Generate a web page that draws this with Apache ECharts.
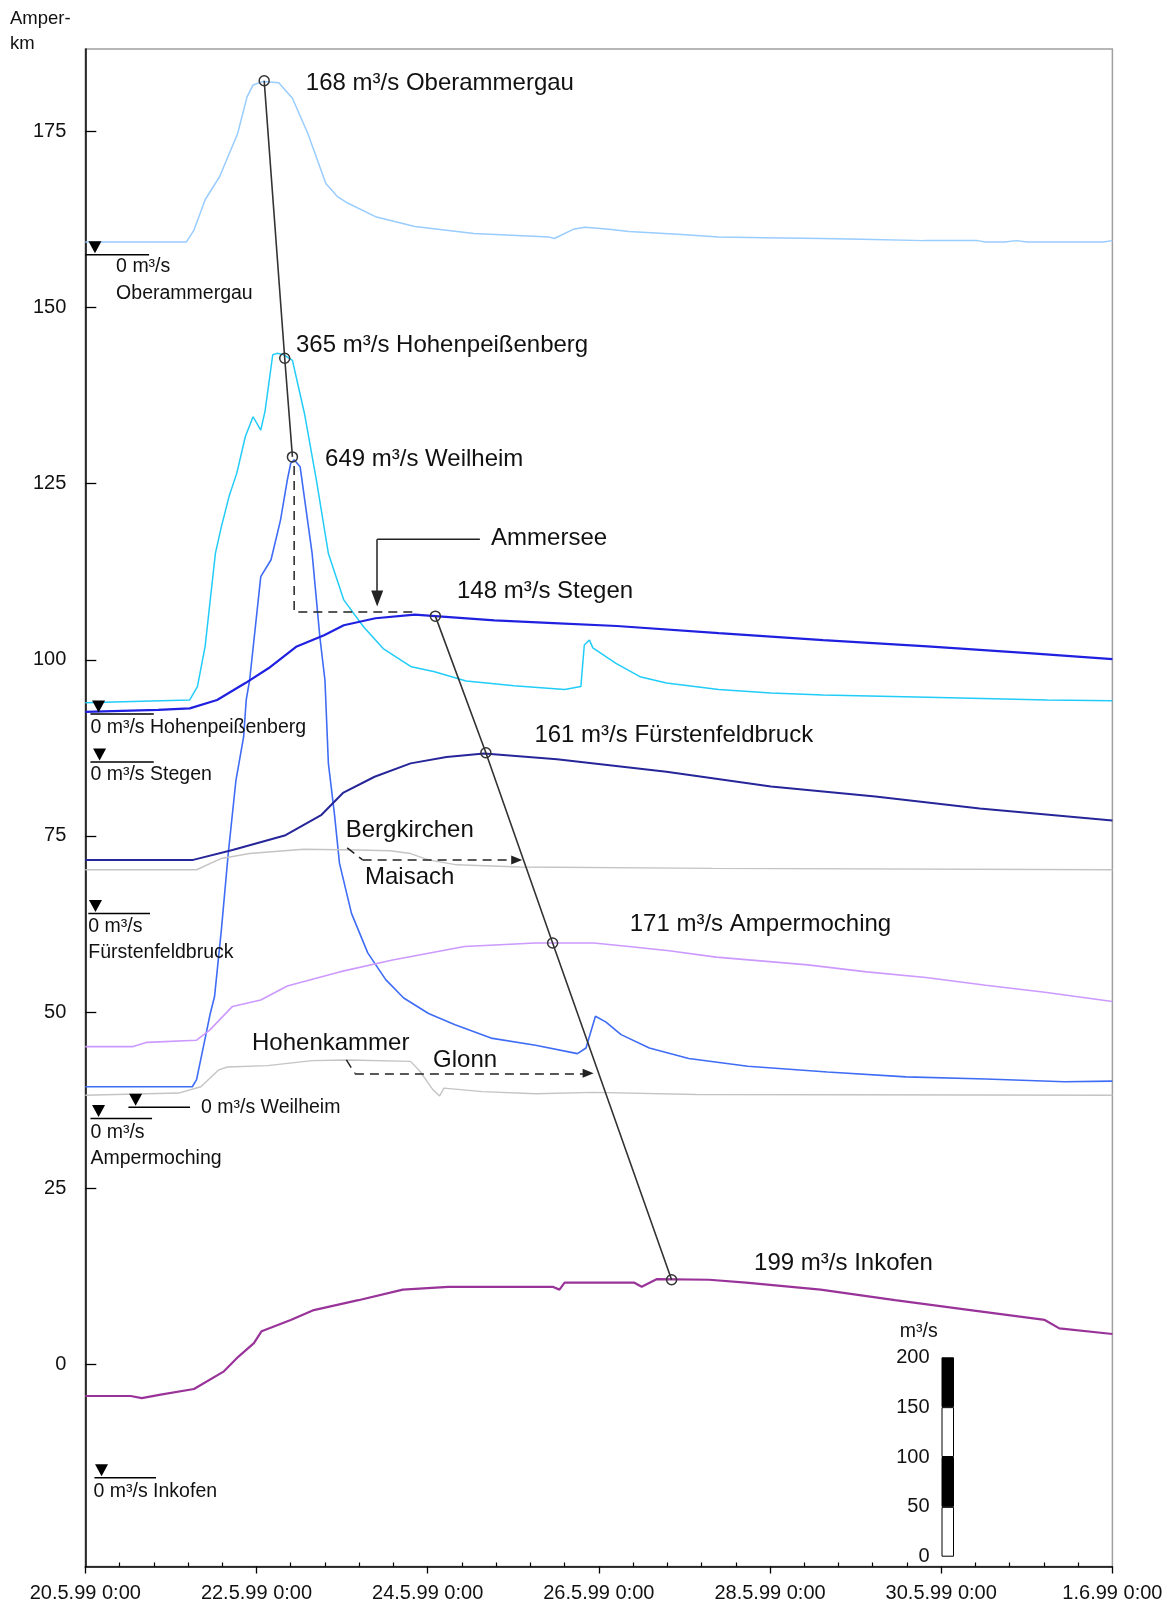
<!DOCTYPE html>
<html><head><meta charset="utf-8">
<script src="https://cdn.jsdelivr.net/npm/echarts@6/dist/echarts.min.js"></script>
<style>html,body{margin:0;padding:0;background:#fff}#c{width:1171px;height:1610px}</style>
</head><body><div id="c"></div>
<script>
// ---------- DATA (x = days since 20.5.99 0:00, y = Amper-km plotting position) ----------
const xTickLabels = ['20.5.99 0:00','22.5.99 0:00','24.5.99 0:00','26.5.99 0:00','28.5.99 0:00','30.5.99 0:00','1.6.99 0:00'];
const yTickValues = [0,25,50,75,100,125,150,175];
const scaleTickValues = [0,50,100,150,200];
const scaleSegments = [50,50,50,50];

const oberammergau = [[0,159.3],[1.18,159.3],[1.27,161.0],[1.40,165.3],[1.57,168.6],[1.78,174.7],[1.89,179.9],[1.96,181.6],[2.08,182.1],[2.26,181.9],[2.42,179.7],[2.60,174.7],[2.81,167.6],[2.95,165.7],[3.07,164.8],[3.39,162.9],[3.85,161.5],[4.54,160.5],[5.42,160.0],[5.48,159.8],[5.70,161.1],[5.84,161.4],[6.12,161.1],[6.35,160.8],[6.92,160.4],[7.40,160.0],[7.94,159.9],[8.60,159.8],[9.07,159.7],[9.80,159.5],[10.42,159.5],[10.52,159.3],[10.74,159.3],[10.88,159.5],[11.00,159.3],[11.89,159.3],[12.00,159.5]];
const hohenpeissenberg = [[0,93.9],[1.22,94.3],[1.31,96.2],[1.40,101.9],[1.52,115.1],[1.59,118.9],[1.68,123.2],[1.77,126.5],[1.87,131.7],[1.96,134.5],[2.05,132.6],[2.10,135.3],[2.19,143.3],[2.24,143.5],[2.32,143.3],[2.42,142.5],[2.56,135.0],[2.70,125.5],[2.84,115.1],[3.02,108.5],[3.25,104.7],[3.48,101.6],[3.81,99.0],[4.08,98.3],[4.45,97.0],[5.01,96.3],[5.60,95.8],[5.79,96.2],[5.83,102.1],[5.89,102.8],[5.93,101.7],[6.20,99.5],[6.48,97.6],[6.79,96.7],[7.40,95.8],[8.01,95.3],[8.62,95.0],[9.84,94.7],[11.24,94.3],[12.00,94.2]];
const weilheim = [[0,39.4],[1.25,39.4],[1.30,40.4],[1.38,45.1],[1.46,49.8],[1.51,52.2],[1.59,61.7],[1.67,72.5],[1.76,82.9],[1.85,89.1],[1.88,94.3],[1.92,97.1],[2.05,111.8],[2.17,114.2],[2.28,119.8],[2.36,125.5],[2.40,127.9],[2.44,128.4],[2.51,127.4],[2.65,115.1],[2.74,103.3],[2.80,97.1],[2.84,85.3],[2.91,78.2],[2.97,71.1],[3.11,64.0],[3.30,58.4],[3.51,54.6],[3.72,52.0],[4.01,49.8],[4.32,48.2],[4.74,46.3],[5.26,45.3],[5.75,44.1],[5.85,44.9],[5.96,49.4],[6.08,48.6],[6.26,46.8],[6.59,44.9],[7.05,43.4],[7.74,42.3],[8.67,41.5],[9.59,40.8],[10.52,40.5],[11.44,40.1],[12.00,40.2]];
const stegen = [[0,92.6],[0.85,92.9],[1.22,93.1],[1.54,94.3],[1.87,96.7],[2.14,98.8],[2.47,101.9],[2.79,103.5],[3.02,104.9],[3.39,105.9],[3.85,106.4],[4.09,106.2],[4.78,105.6],[5.47,105.2],[6.21,104.8],[7.40,103.8],[8.62,102.8],[9.84,101.9],[11.06,100.9],[12.00,100.1]];
const fuerstenfeldbruck = [[0,71.6],[1.26,71.6],[1.72,73.0],[2.34,75.1],[2.76,78.0],[3.01,81.1],[3.38,83.4],[3.80,85.3],[4.22,86.2],[4.66,86.7],[5.51,85.9],[6.79,84.1],[8.01,82.0],[9.23,80.6],[10.45,78.9],[12.00,77.2]];
const maisach = [[0,70.2],[1.30,70.2],[1.59,71.8],[1.92,72.5],[2.55,73.1],[3.18,73.0],[3.56,72.9],[3.80,72.5],[4.01,71.6],[4.34,70.9],[5.08,70.6],[7.33,70.4],[12.00,70.2]];
const ampermoching = [[0,45.1],[0.56,45.1],[0.72,45.7],[1.30,46.0],[1.45,47.4],[1.72,50.8],[2.05,51.7],[2.36,53.7],[2.97,55.7],[3.59,57.4],[4.43,59.3],[5.26,59.8],[5.94,59.8],[6.35,59.3],[6.82,58.7],[7.37,57.8],[8.44,56.7],[9.13,55.7],[9.82,54.9],[10.52,53.8],[11.21,52.8],[12.00,51.5]];
const glonn = [[0,38.2],[1.09,38.5],[1.35,39.4],[1.56,41.8],[1.66,42.2],[2.13,42.4],[2.65,43.1],[3.07,43.2],[3.80,43.0],[3.91,41.6],[4.06,39.0],[4.14,38.1],[4.19,39.2],[4.64,38.7],[5.26,38.4],[5.94,38.6],[7.14,38.3],[12.00,38.2]];
const inkofen = [[0,-4.5],[0.53,-4.5],[0.66,-4.8],[0.88,-4.3],[1.27,-3.5],[1.62,-1.0],[1.79,1.1],[1.97,3.0],[2.06,4.7],[2.40,6.3],[2.67,7.7],[3.19,9.1],[3.71,10.6],[4.24,11.0],[5.46,11.0],[5.54,10.6],[5.60,11.6],[6.41,11.6],[6.50,11.0],[6.68,12.1],[7.29,12.0],[7.72,11.6],[8.59,10.6],[9.46,9.1],[10.34,7.7],[11.21,6.3],[11.38,5.1],[12.00,4.3]];

// peak points (flood wave travel)
const upperPeaks = [[2.09,182.2],[2.33,142.8],[2.42,128.8]];
const lowerPeaks = [[4.09,106.2],[4.68,86.8],[5.46,59.8],[6.85,12.0]];

// ---------- CHART ----------
const FONT = '"Liberation Sans", Arial, Helvetica, sans-serif';
const TXT = '#111';
const chart = echarts.init(document.getElementById('c'), null, {renderer:'canvas', width:1171, height:1610});

const gauges = [
  {name:'Oberammergau', data:oberammergau, color:'#99ccff', w:1.5},
  {name:'Hohenpeißenberg', data:hohenpeissenberg, color:'#22ccf8', w:1.5},
  {name:'Weilheim', data:weilheim, color:'#3f6cf5', w:1.6},
  {name:'Stegen', data:stegen, color:'#2020e0', w:2.2},
  {name:'Fürstenfeldbruck', data:fuerstenfeldbruck, color:'#26269a', w:2},
  {name:'Maisach', data:maisach, color:'#c4c4c4', w:1.4},
  {name:'Ampermoching', data:ampermoching, color:'#cc99ff', w:1.6},
  {name:'Glonn', data:glonn, color:'#c4c4c4', w:1.4},
  {name:'Inkofen', data:inkofen, color:'#993399', w:2.2}
];

const series = gauges.map(g => ({
  type:'line', name:g.name, data:g.data, symbol:'none', showSymbol:false,
  lineStyle:{color:g.color, width:g.w}, itemStyle:{color:g.color}, z:2, silent:true
}));

const peakStyle = {
  type:'line', symbol:'circle', symbolSize:10, showSymbol:true, showAllSymbol:true,
  lineStyle:{color:'#333', width:1.6},
  itemStyle:{color:'rgba(255,255,255,0)', borderColor:'#333', borderWidth:1.5},
  z:6, silent:true
};
series.push(Object.assign({}, peakStyle, {data:upperPeaks}));
series.push(Object.assign({}, peakStyle, {data:lowerPeaks}));

const dash = [9,6];
function arrowMark(from, to, type, size){
  return {
    silent:true, symbol:['none','triangle'], symbolSize:size,
    label:{show:false}, emphasis:{disabled:true},
    lineStyle:{color:'#222', width:1.5, type:type},
    data:[[{coord:from},{coord:to}]]
  };
}
// Weilheim -> Ammersee (dashed)
series.push({type:'line', symbol:'none', data:[[2.44,127.5],[2.44,106.8],[3.85,106.8]],
  lineStyle:{color:'#222', width:1.5, type:dash}, z:5, silent:true});
// Ammersee arrow (solid)
series.push({type:'line', symbol:'none', data:[[4.61,117.1],[3.41,117.1]],
  lineStyle:{color:'#222', width:1.5}, z:5, silent:true,
  markLine:arrowMark([3.41,117.1],[3.41,108.7],'solid',[12,16])});
// Bergkirchen / Maisach arrow
series.push({type:'line', symbol:'none', data:[[3.06,73.3],[3.24,71.6]],
  lineStyle:{color:'#222', width:1.5, type:dash}, z:5, silent:true,
  markLine:arrowMark([3.24,71.6],[5.04,71.6],dash,[9,11])});
// Hohenkammer / Glonn arrow
series.push({type:'line', symbol:'none', data:[[3.05,43.2],[3.15,41.3]],
  lineStyle:{color:'#222', width:1.5, type:dash}, z:5, silent:true,
  markLine:arrowMark([3.15,41.3],[5.875,41.3],dash,[9,11])});

// scale bar (stacked bars in a second grid)
scaleSegments.forEach((s,i) => {
  series.push({type:'bar', xAxisIndex:1, yAxisIndex:1, stack:'scale', data:[s],
    barWidth:'100%', silent:true,
    itemStyle:{color: i % 2 ? '#000' : '#fff', borderColor:'#000', borderWidth:1}});
});

const option = {
  animation:false,
  backgroundColor:'#fff',
  textStyle:{fontFamily:FONT},
  grid:[
    {left:85.3, right:58.6, top:49, bottom:43.5, show:true, borderColor:'#a0a0a0', borderWidth:1.5, backgroundColor:'rgba(0,0,0,0)'},
    {left:941.5, top:1357.3, width:12.5, height:199.4, show:false}
  ],
  xAxis:[
    {type:'value', gridIndex:0, min:0, max:12, interval:2,
     axisLine:{show:true, onZero:false, lineStyle:{color:'#000', width:1.5}},
     axisTick:{show:true, length:7, lineStyle:{color:'#000', width:1.3}},
     minorTick:{show:true, splitNumber:5, length:-4, lineStyle:{color:'#000', width:1.2}},
     splitLine:{show:false},
     axisLabel:{fontSize:20, color:TXT, fontFamily:FONT, margin:17,
       formatter:(v)=> xTickLabels[Math.round(v/2)] || ''}},
    {type:'category', gridIndex:1, data:['m³/s'], show:false}
  ],
  yAxis:[
    {type:'value', gridIndex:0, min:-28.7, max:186.7,
     axisLine:{show:true, onZero:false, lineStyle:{color:'#000', width:1.5}},
     axisTick:{show:true, inside:true, length:11, customValues:yTickValues, lineStyle:{color:'#000', width:1.3}},
     splitLine:{show:false},
     axisLabel:{fontSize:20, color:TXT, fontFamily:FONT, margin:19, customValues:yTickValues}},
    {type:'value', gridIndex:1, min:0, max:200, interval:50,
     axisLine:{show:false}, axisTick:{show:false}, splitLine:{show:false},
     axisLabel:{fontSize:20, color:TXT, fontFamily:FONT, margin:12, customValues:scaleTickValues}}
  ],
  series:series
};
chart.setOption(option);

// ---------- ANNOTATIONS (anchored in data coordinates) ----------
const px = (d,v) => chart.convertToPixel({gridIndex:0}, [d,v]);
const bigLabels = [
  ['168 m³/s Oberammergau', 2.577, 181.8],
  ['365 m³/s Hohenpeißenberg', 2.462, 144.7],
  ['649 m³/s Weilheim', 2.801, 128.5],
  ['Ammersee', 4.741, 117.2],
  ['148 m³/s Stegen', 4.343, 109.7],
  ['161 m³/s Fürstenfeldbruck', 5.247, 89.3],
  ['Bergkirchen', 3.043, 75.85],
  ['Maisach', 3.268, 69.1],
  ['171 m³/s Ampermoching', 6.361, 62.4],
  ['Hohenkammer', 1.948, 45.6],
  ['Glonn', 4.063, 43.2],
  ['199 m³/s Inkofen', 7.814, 14.35]
];
const baseMarks = [
  {v:157.5, tri:0.113, x0:0.0,   x1:0.745, tx:0.36,  lines:['0 m³/s','Oberammergau'], dy:12},
  {v:92.3,  tri:0.155, x0:0.06,  x1:0.80,  tx:0.06,  lines:['0 m³/s Hohenpeißenberg'], dy:14},
  {v:85.5,  tri:0.167, x0:0.06,  x1:0.80,  tx:0.06,  lines:['0 m³/s Stegen'], dy:13},
  {v:64.0,  tri:0.119, x0:0.035, x1:0.756, tx:0.035, lines:['0 m³/s','Fürstenfeldbruck'], dy:13},
  {v:36.5,  tri:0.588, x0:0.504, x1:1.223, tx:1.352, lines:['0 m³/s Weilheim'], dy:0},
  {v:34.9,  tri:0.155, x0:0.06,  x1:0.78,  tx:0.06,  lines:['0 m³/s','Ampermoching'], dy:14},
  {v:-16.1, tri:0.19,  x0:0.107, x1:0.826, tx:0.096, lines:['0 m³/s Inkofen'], dy:13.5}
];

const els = [];
bigLabels.forEach(([t,d,v]) => {
  const p = px(d,v);
  els.push({type:'text', x:p[0], y:p[1], silent:true, z:10,
    style:{text:t, font:'24px ' + FONT, fill:TXT, align:'left', verticalAlign:'middle'}});
});
baseMarks.forEach(m => {
  const c = px(m.tri, m.v), a = px(m.x0, m.v), b = px(m.x1, m.v), t = px(m.tx, m.v);
  els.push({type:'line', silent:true, z:10, shape:{x1:a[0], y1:a[1], x2:b[0], y2:b[1]},
    style:{stroke:'#000', lineWidth:1.5}});
  els.push({type:'polygon', silent:true, z:10,
    shape:{points:[[c[0]-6.5, c[1]-13.5],[c[0]+6.5, c[1]-13.5],[c[0], c[1]-1.5]]},
    style:{fill:'#000'}});
  m.lines.forEach((ln,i) => {
    els.push({type:'text', x:t[0], y:t[1] + m.dy + i*26.6, silent:true, z:10,
      style:{text:ln, font:'19.5px ' + FONT, fill:TXT, align:'left', verticalAlign:'middle'}});
  });
});
els.push({type:'text', x:10, y:18.5, silent:true, style:{text:'Amper-', font:'18.5px ' + FONT, fill:TXT, align:'left', verticalAlign:'middle'}});
els.push({type:'text', x:10, y:44, silent:true, style:{text:'km', font:'18.5px ' + FONT, fill:TXT, align:'left', verticalAlign:'middle'}});
const sb = chart.convertToPixel({gridIndex:1}, ['m³/s', 200]);
els.push({type:'text', x:sb[0] - 29, y:sb[1] - 26, silent:true, style:{text:'m³/s', font:'19.5px ' + FONT, fill:TXT, align:'center', verticalAlign:'middle'}});

chart.setOption({graphic:{elements:els}});
</script>
</body></html>
